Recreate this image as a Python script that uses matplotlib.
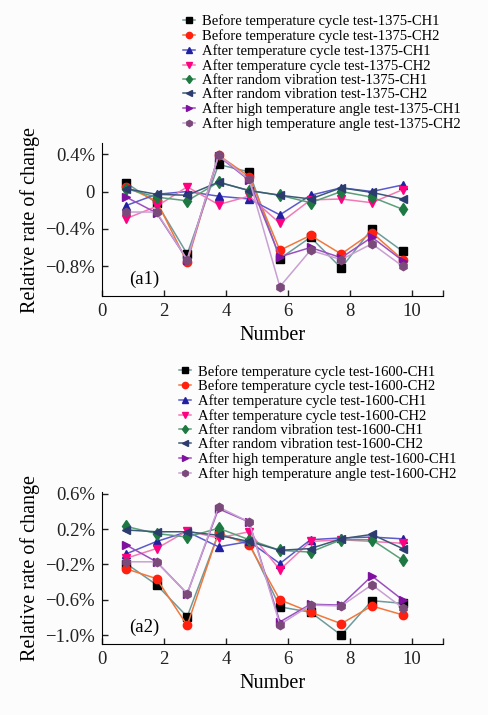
import matplotlib as mpl
import matplotlib.pyplot as plt

mpl.rcParams['font.family'] = ['Liberation Serif', 'DejaVu Serif']

# sample positions along the x axis
number = [0.78, 1.76, 2.75, 3.76, 4.75, 5.74, 6.73, 7.72, 8.71, 9.70]

# series styles: (marker, marker colour, line colour)
styles = [('s', '#000000', '#6f9a9a'),
          ('o', '#ff2010', '#f0783c'),
          ('^', '#2020a0', '#5a5acd'),
          ('v', '#ff0080', '#f27ab4'),
          ('d', '#1e7841', '#5aa078'),
          ('<', '#2d3c6e', '#3c5a78'),
          ('>', '#8010a0', '#9b4fc0'),
          ('h', '#7b4a7a', '#c8a0d2')]

names = ['Before temperature cycle test-{}-CH1',
         'Before temperature cycle test-{}-CH2',
         'After temperature cycle test-{}-CH1',
         'After temperature cycle test-{}-CH2',
         'After random vibration test-{}-CH1',
         'After random vibration test-{}-CH2',
         'After high temperature angle test-{}-CH1',
         'After high temperature angle test-{}-CH2']

# 1375 data (relative rate of change, %)
before_1375_ch1 = [0.09, -0.12, -0.67, 0.29, 0.21, -0.72, -0.49, -0.82, -0.40, -0.64]
before_1375_ch2 = [0.05, -0.10, -0.76, 0.39, 0.16, -0.63, -0.47, -0.67, -0.44, -0.73]
tc_1375_ch1 = [-0.15, -0.03, 0.00, -0.05, -0.08, -0.25, -0.04, 0.04, 0.00, 0.07]
tc_1375_ch2 = [-0.29, -0.16, 0.05, -0.14, -0.05, -0.34, -0.09, -0.08, -0.12, 0.02]
rv_1375_ch1 = [0.03, -0.06, -0.10, 0.10, 0.01, -0.04, -0.12, 0.00, -0.06, -0.19]
rv_1375_ch2 = [0.03, -0.03, -0.04, 0.10, 0.01, -0.04, -0.08, 0.04, -0.01, -0.08]
ht_1375_ch1 = [-0.06, -0.23, -0.73, 0.38, 0.12, -0.70, -0.60, -0.71, -0.49, -0.74]
ht_1375_ch2 = [-0.22, -0.22, -0.73, 0.39, 0.13, -1.02, -0.63, -0.73, -0.56, -0.80]

# 1600 data (relative rate of change, %)
before_1600_ch1 = [-0.19, -0.43, -0.79, 0.15, 0.04, -0.68, -0.74, -1.00, -0.61, -0.64]
before_1600_ch2 = [-0.25, -0.36, -0.89, 0.16, 0.02, -0.60, -0.74, -0.87, -0.67, -0.77]
tc_1600_ch1 = [-0.08, 0.06, 0.17, 0.00, 0.06, -0.19, 0.08, 0.10, 0.11, 0.09]
tc_1600_ch2 = [-0.13, -0.02, 0.18, 0.10, 0.17, -0.26, 0.06, 0.08, 0.06, 0.04]
rv_1600_ch1 = [0.23, 0.15, 0.11, 0.21, 0.08, -0.04, -0.06, 0.08, 0.08, -0.15]
rv_1600_ch2 = [0.19, 0.17, 0.17, 0.13, 0.06, -0.04, -0.02, 0.09, 0.14, -0.02]
ht_1600_ch1 = [0.02, -0.17, -0.53, 0.43, 0.28, -0.85, -0.65, -0.66, -0.33, -0.60]
ht_1600_ch2 = [-0.17, -0.17, -0.53, 0.45, 0.28, -0.88, -0.66, -0.67, -0.43, -0.69]

data_1375 = [before_1375_ch1, before_1375_ch2, tc_1375_ch1, tc_1375_ch2,
             rv_1375_ch1, rv_1375_ch2, ht_1375_ch1, ht_1375_ch2]
data_1600 = [before_1600_ch1, before_1600_ch2, tc_1600_ch1, tc_1600_ch2,
             rv_1600_ch1, rv_1600_ch2, ht_1600_ch1, ht_1600_ch2]

yticks_a1 = [0.4, 0.0, -0.4, -0.8]
yticklabels_a1 = ['0.4%', '0', '\u22120.4%', '\u22120.8%']
yticks_a2 = [0.6, 0.2, -0.2, -0.6, -1.0]
yticklabels_a2 = ['0.6%', '0.2%', '\u22120.2%', '\u22120.6%', '\u22121.0%']
xticks = [0, 2, 4, 6, 8, 10]


def draw_panel(fig, rect, series, tag, panel, yticks, ylabels, ylim, legend_at):
    ax = fig.add_axes(rect)
    ax.set_facecolor('none')
    handles = []
    for vals, (mk, mc, lc), nm in zip(series, styles, names):
        h, = ax.plot(number, vals, color=lc, lw=1.1, marker=mk, ms=6,
                     mfc=mc, mec=mc, label=nm.format(tag))
        handles.append(h)
    ax.set_xlim(0, 11)
    ax.set_ylim(*ylim)
    ax.set_xticks(xticks)
    ax.set_xticks([11], minor=True)
    ax.set_yticks(yticks)
    ax.set_yticklabels(ylabels)
    for s in ['top', 'right']:
        ax.spines[s].set_visible(False)
    ax.tick_params(which='both', direction='in', length=4, width=1,
                   labelsize=13.5, pad=5, colors='#222222')
    ax.set_xlabel('Number', fontsize=14.5, labelpad=4)
    ax.set_ylabel('Relative rate of change', fontsize=14.5, labelpad=4)
    ax.text(0.08, 0.11, panel, transform=ax.transAxes, fontsize=13.5,
            va='center', ha='left')
    fig.legend(handles=handles, loc='upper left', bbox_to_anchor=legend_at,
               frameon=False, fontsize=10.5, handlelength=0.8, handletextpad=0.5,
               labelspacing=0.07, borderpad=0, markerscale=0.75)
    return ax


fig = plt.figure(figsize=(4.89, 7.15), dpi=100, facecolor='#fcfcfc')
draw_panel(fig, [0.2086, 0.586, 0.697, 0.214], data_1375, '1375', '(a1)',
           yticks_a1, yticklabels_a1, (-1.12, 0.52), (0.36, 0.99))
draw_panel(fig, [0.2086, 0.0993, 0.697, 0.2126], data_1600, '1600', '(a2)',
           yticks_a2, yticklabels_a2, (-1.1, 0.62), (0.352, 0.5))
plt.savefig('out.png', dpi=100, facecolor=fig.get_facecolor())
